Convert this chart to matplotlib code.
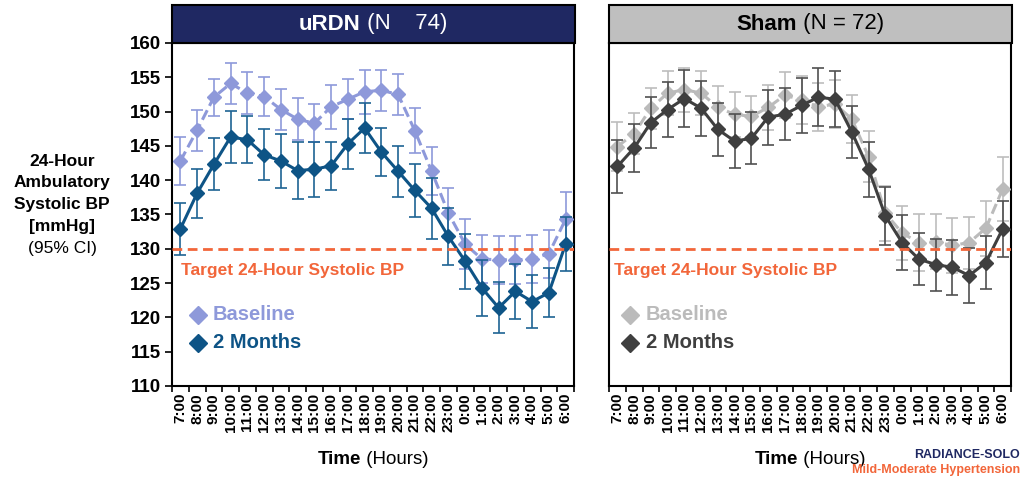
import numpy as np
import matplotlib
matplotlib.use("Agg")
import matplotlib.pyplot as plt
from matplotlib.patches import Rectangle

plt.rcParams["font.family"] = ["Liberation Sans", "DejaVu Sans"]

HOURS = ["7:00", "8:00", "9:00", "10:00", "11:00", "12:00", "13:00", "14:00",
         "15:00", "16:00", "17:00", "18:00", "19:00", "20:00", "21:00", "22:00",
         "23:00", "0:00", "1:00", "2:00", "3:00", "4:00", "5:00", "6:00"]

urdn_base = [142.8, 147.3, 152.1, 154.1, 152.7, 152.2, 150.3, 148.9, 148.3, 150.7,
             151.8, 152.9, 153.1, 152.5, 147.2, 141.3, 135.2, 130.7, 128.5, 128.4,
             128.4, 128.5, 129.3, 134.3]
urdn_base_err = [3.5, 3.0, 2.7, 3.0, 3.0, 2.9, 3.0, 3.1, 2.8, 3.2, 2.9, 3.2,
                 3.0, 3.0, 3.3, 3.5, 3.6, 3.6, 3.5, 3.5, 3.5, 3.5, 3.5, 4.0]
urdn_2m = [132.9, 138.1, 142.3, 146.3, 145.9, 143.7, 142.8, 141.4, 141.6, 142.1,
           145.3, 147.6, 144.1, 141.3, 138.5, 135.9, 131.8, 128.2, 124.3, 121.4,
           123.8, 122.3, 123.6, 130.7]
urdn_2m_err = [3.8, 3.6, 3.8, 3.8, 3.4, 3.7, 3.9, 4.2, 4.0, 3.5, 3.6, 3.7,
               3.5, 3.7, 3.8, 4.4, 4.2, 4.0, 4.1, 3.7, 4.0, 3.9, 3.6, 3.9]

sham_base = [144.9, 146.8, 150.5, 152.7, 153.2, 152.7, 150.6, 149.6, 149.3, 150.6,
             152.4, 151.7, 150.7, 151.1, 148.9, 143.4, 135.2, 132.3, 130.9, 131.0,
             130.5, 130.9, 133.0, 138.7]
sham_base_err = [3.6, 3.0, 3.0, 3.2, 3.2, 3.2, 3.2, 3.3, 3.0, 3.3, 3.3, 3.5,
                 3.5, 3.5, 3.5, 3.7, 4.0, 4.0, 4.2, 4.0, 4.0, 3.8, 4.0, 4.7]
sham_2m = [142.0, 144.7, 148.4, 150.3, 151.9, 150.5, 147.4, 145.7, 146.1, 149.2,
           149.6, 150.9, 152.1, 151.8, 147.0, 141.6, 134.8, 130.9, 128.5, 127.7,
           127.3, 126.1, 128.0, 132.9]
sham_2m_err = [3.9, 3.5, 3.7, 4.0, 4.2, 4.0, 3.8, 3.9, 3.8, 4.0, 3.8, 4.0,
               4.2, 4.1, 3.8, 4.0, 4.2, 4.0, 3.8, 3.8, 4.0, 4.0, 3.8, 4.1]

TARGET = 130
YTICKS = [110, 115, 120, 125, 130, 135, 140, 145, 150, 155, 160]

ORANGE = "#F2663A"
NAVY = "#1F2862"

W, H = 1023, 480
fig = plt.figure(figsize=(W / 100, H / 100), dpi=100)
renderer = fig.canvas.get_renderer()


def px(x, y):
    return x / W, 1 - y / H


def mixed_text(xc, y, parts, size):
    # bold + regular pieces side by side, centred as a whole at xc
    objs, widths = [], []
    for txt, wt, col in parts:
        t = fig.text(0, 0, txt, fontsize=size, fontweight=wt, color=col, va="center")
        widths.append(t.get_window_extent(renderer).width)
        objs.append(t)
    x0 = xc - sum(widths) / 2
    for t, w in zip(objs, widths):
        t.set_position(px(x0, y))
        x0 += w


def panel(left, right, title_parts, title_bg, base, base_err, two, two_err,
          c_base, c_base_err, c_two, c_two_err, show_y, shift):
    l, b = px(left, 386)
    r, t = px(right, 43)
    ax = fig.add_axes([l, b, r - l, t - b])
    x = np.arange(len(HOURS))
    ax.errorbar(x, base, yerr=base_err, fmt="none", ecolor=c_base_err,
                elinewidth=1.2, capsize=4.5, capthick=1.2, zorder=2)
    ax.plot(x, base, ls=(0, (3.5, 1.6)), lw=2.2, color=c_base, marker="D",
            ms=7, mec=c_base, mfc=c_base, zorder=3)
    ax.errorbar(x, two, yerr=two_err, fmt="none", ecolor=c_two_err,
                elinewidth=1.2, capsize=4.5, capthick=1.2, zorder=4)
    ax.plot(x, two, ls="-", lw=2.2, color=c_two, marker="D",
            ms=7, mec=c_two, mfc=c_two, zorder=5)
    ax.axhline(TARGET, color=ORANGE, lw=2, ls=(0, (3.5, 2)), zorder=6)
    ax.text(0.05 + shift, 128.0, "Target 24-Hour Systolic BP", color=ORANGE,
            fontsize=12.5, fontweight="bold", va="top", ha="left")

    ax.set_xlim(-0.5, len(HOURS) - 0.5)
    ax.set_ylim(110, 160)
    ax.set_xticks(x)
    ax.set_xticklabels(HOURS, rotation=90, fontsize=11, fontweight="bold")
    ax.set_xticks(np.arange(-0.5, len(HOURS)), minor=True)
    ax.tick_params(axis="x", which="major", length=0, pad=5)
    ax.tick_params(axis="x", which="minor", length=4, width=1.2, direction="out")
    if show_y:
        ax.set_yticks(YTICKS)
        ax.set_yticklabels([str(v) for v in YTICKS], fontsize=13.5, fontweight="bold")
        ax.tick_params(axis="y", length=5, width=1.2, direction="out", pad=3)
    else:
        ax.set_yticks([])
    for s in ax.spines.values():
        s.set_linewidth(1.5)
        s.set_color("black")

    # legend drawn by hand, as in the original slide
    ax.plot([1.05 + shift], [120.4], marker="D", ms=9, color=c_base, ls="none", zorder=7)
    ax.text(1.95 + shift, 120.4, "Baseline", color=c_base, fontsize=14.5,
            fontweight="bold", va="center")
    ax.plot([1.05 + shift], [116.3], marker="D", ms=9, color=c_two, ls="none", zorder=7)
    ax.text(1.95 + shift, 116.3, "2 Months", color=c_two, fontsize=14.5,
            fontweight="bold", va="center")

    # title box
    x0, y0 = px(left, 43)
    x1, y1 = px(right + 1, 5)
    fig.patches.append(Rectangle((x0, y0), x1 - x0, y1 - y0, transform=fig.transFigure,
                                 facecolor=title_bg, edgecolor="black", lw=1.5))
    mixed_text((left + right) / 2, 24, title_parts, 16)
    mixed_text((left + right) / 2, 460, [("Time", "bold", "black"),
                                         (" (Hours)", "normal", "black")], 13.5)
    return ax


panel(172, 574, [("uRDN", "bold", "white"), (" (N    74)", "normal", "white")], NAVY,
      urdn_base, urdn_base_err, urdn_2m, urdn_2m_err,
      "#8E99DA", "#8E99DA", "#0E5486", "#1E6394", True, 0.0)

panel(609, 1011, [("Sham", "bold", "black"), (" (N = 72)", "normal", "black")], "#BFBFBF",
      sham_base, sham_base_err, sham_2m, sham_2m_err,
      "#BBBBBB", "#BDBDBD", "#3F3F3F", "#505050", False, -0.27)

# y-axis label
for i, line in enumerate(["24-Hour", "Ambulatory", "Systolic BP", "[mmHg]"]):
    fig.text(*px(62, 161 + i * 22), line, fontsize=12.5, fontweight="bold",
             ha="center", va="center")
fig.text(*px(62, 249), "(95% CI)", fontsize=12.5, ha="center", va="center")

fig.text(*px(1020, 455), "RADIANCE-SOLO", fontsize=9, fontweight="bold",
         color=NAVY, ha="right", va="center")
fig.text(*px(1020, 470), "Mild-Moderate Hypertension", fontsize=9, fontweight="bold",
         color=ORANGE, ha="right", va="center")

fig.savefig("out.png", dpi=100)
